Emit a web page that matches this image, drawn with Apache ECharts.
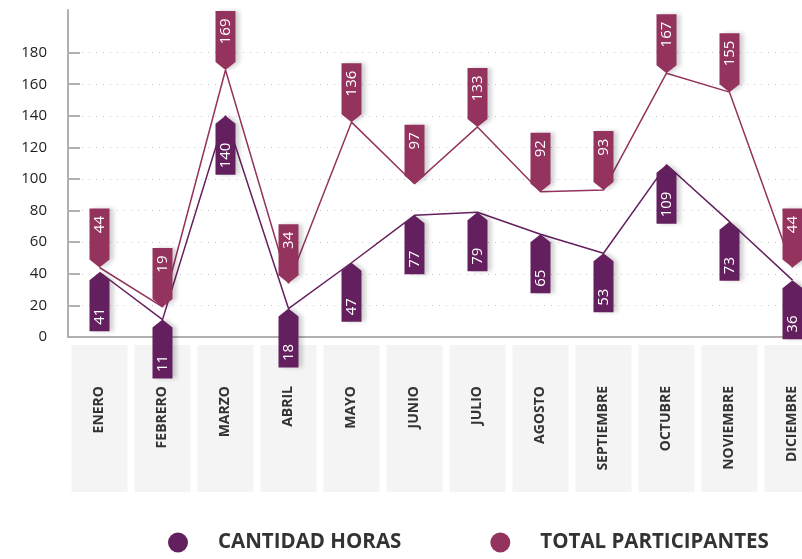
<!DOCTYPE html>
<html>
<head>
<meta charset="utf-8">
<script src="https://cdn.jsdelivr.net/npm/echarts@6/dist/echarts.min.js"></script>
<style>
html,body{margin:0;padding:0;background:#fff;}
#chart{width:802px;height:559px;}
</style>
</head>
<body>
<div id="chart"></div>
<script>
// datos del grafico
var meses = ["ENERO","FEBRERO","MARZO","ABRIL","MAYO","JUNIO","JULIO","AGOSTO","SEPTIEMBRE","OCTUBRE","NOVIEMBRE","DICIEMBRE"];
var cantidadHoras = [41, 11, 140, 18, 47, 77, 79, 65, 53, 109, 73, 36];
var totalParticipantes = [44, 19, 169, 34, 136, 97, 133, 92, 93, 167, 155, 44];
var ticksY = [0, 20, 40, 60, 80, 100, 120, 140, 160, 180];

var colorHoras = "#631f5e";
var colorPart = "#93335e";

// etiquetas en forma de flecha
var pinAbajo = "path://M0,0 L20,0 L20,51 L10,59 L0,51 Z";
var pinArriba = "path://M10,0 L20,8 L20,59 L0,59 L0,8 Z";

var chart = echarts.init(document.getElementById("chart"));

var option = {
    animation: false,
    grid: {
        left: 68,
        right: -22,
        top: 10,
        bottom: 559 - 337,
        outerBoundsMode: "none"
    },
    legend: {
        bottom: 1,
        left: 163,
        icon: "circle",
        itemWidth: 20,
        itemHeight: 20,
        itemGap: 89,
        selectedMode: false,
        textStyle: {
            fontFamily: "Open Sans",
            fontWeight: "bold",
            fontSize: 20.5,
            color: "#333",
            padding: [0, 0, 0, 25]
        },
        data: ["CANTIDAD HORAS", "TOTAL PARTICIPANTES"]
    },
    xAxis: {
        type: "category",
        data: meses,
        boundaryGap: true,
        offset: 2,
        axisLine: {lineStyle: {color: "#b0b0b0", width: 2}},
        axisTick: {show: false},
        axisLabel: {
            interval: 0,
            rotate: 90,
            margin: 6,
            fontFamily: "Open Sans",
            fontWeight: "bold",
            fontSize: 14,
            color: "#333",
            backgroundColor: "#f4f4f4",
            width: 106,
            lineHeight: 56,
            padding: [0, 41, 0, 0]
        }
    },
    yAxis: {
        type: "value",
        min: 0,
        max: 207,
        axisLine: {show: true, lineStyle: {color: "#b0b0b0", width: 2}},
        axisTick: {
            show: true,
            inside: true,
            length: 12,
            customValues: ticksY,
            lineStyle: {color: "#b0b0b0", width: 2}
        },
        axisLabel: {
            customValues: ticksY,
            margin: 21,
            fontFamily: "Open Sans",
            fontSize: 15,
            color: "#222"
        },
        splitLine: {
            show: true,
            lineStyle: {color: "#c8c8c8", width: 1, type: [1, 6]}
        }
    },
    series: [
        {
            name: "CANTIDAD HORAS",
            type: "line",
            data: cantidadHoras,
            clip: false,
            z: 3,
            color: colorHoras,
            lineStyle: {color: colorHoras, width: 1.5},
            symbol: pinArriba,
            symbolSize: [20, 59],
            symbolOffset: [0, "50%"],
            itemStyle: {
                color: colorHoras,
                shadowColor: "rgba(0,0,0,0.18)",
                shadowBlur: 4,
                shadowOffsetX: 4
            },
            label: {
                show: true,
                position: "inside",
                rotate: 90,
                align: "left",
                verticalAlign: "middle",
                offset: [-23, 0],
                fontFamily: "Open Sans",
                fontSize: 15,
                color: "#fff"
            },
            emphasis: {disabled: true}
        },
        {
            name: "TOTAL PARTICIPANTES",
            type: "line",
            data: totalParticipantes,
            clip: false,
            z: 4,
            color: colorPart,
            lineStyle: {color: colorPart, width: 1.5},
            symbol: pinAbajo,
            symbolSize: [20, 59],
            symbolOffset: [0, "-50%"],
            itemStyle: {
                color: colorPart,
                shadowColor: "rgba(0,0,0,0.18)",
                shadowBlur: 4,
                shadowOffsetX: 4
            },
            label: {
                show: true,
                position: "inside",
                rotate: 90,
                align: "right",
                verticalAlign: "middle",
                offset: [22, 0],
                fontFamily: "Open Sans",
                fontSize: 15,
                color: "#fff"
            },
            emphasis: {disabled: true}
        }
    ]
};

chart.setOption(option);
</script>
</body>
</html>
